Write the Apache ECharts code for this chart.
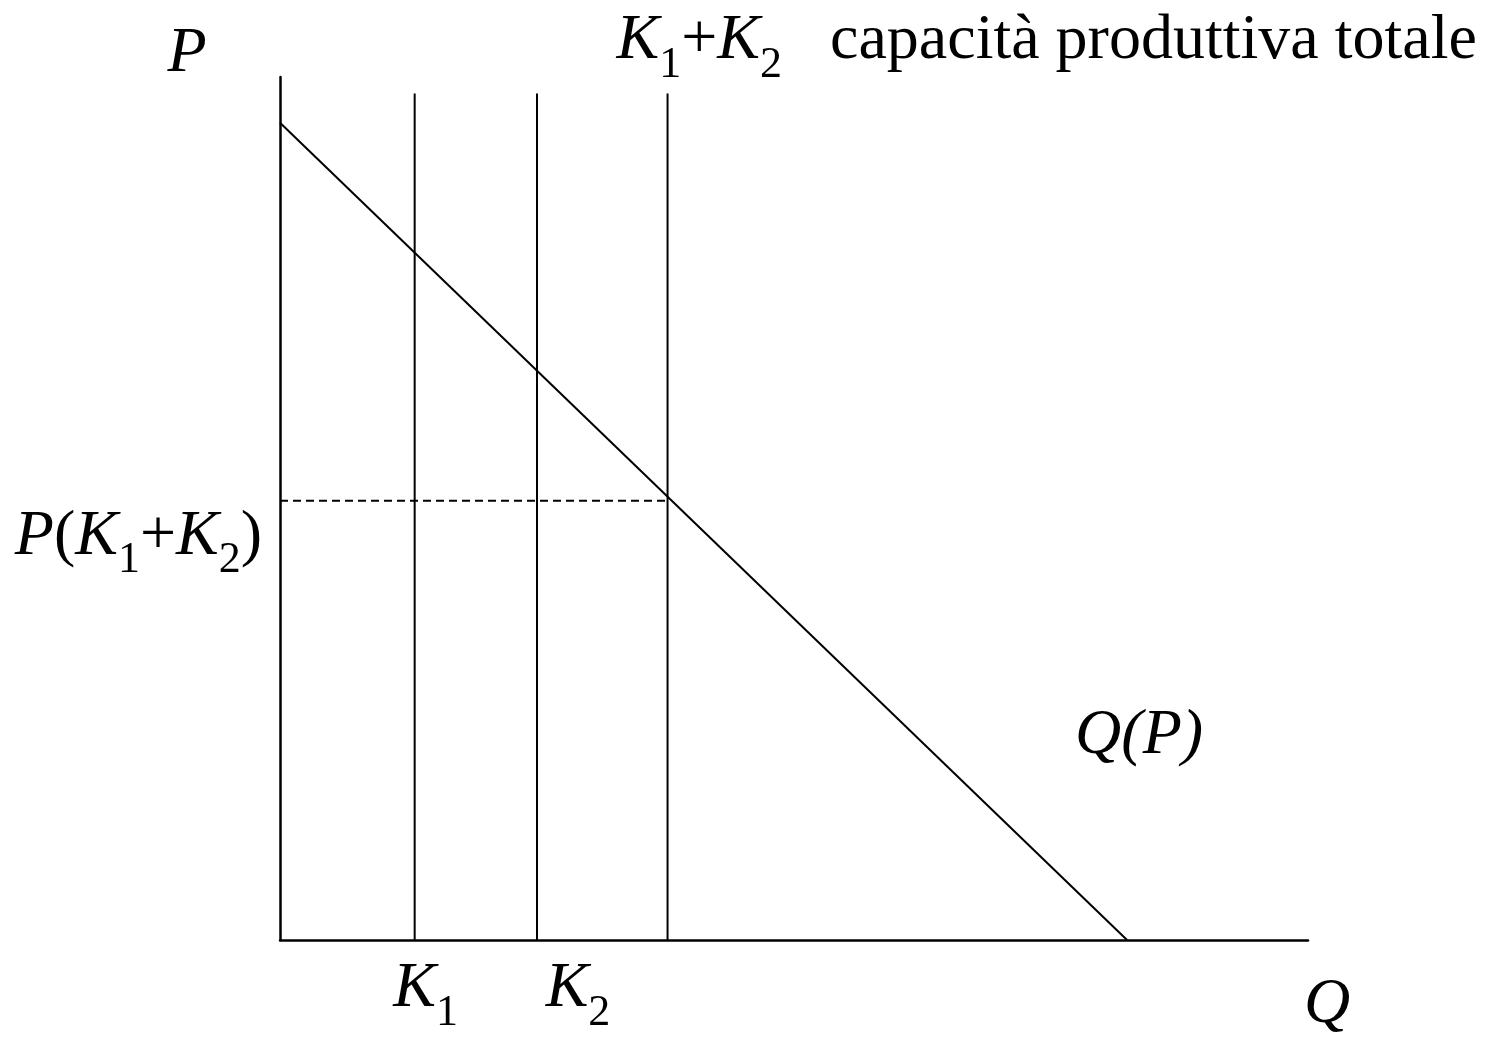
<!DOCTYPE html>
<html>
<head>
<meta charset="utf-8">
<title>Capacità produttiva</title>
<script src="https://cdn.jsdelivr.net/npm/echarts@6/dist/echarts.min.js"></script>
<style>
  html, body { margin: 0; padding: 0; background: #fff; }
  #main { width: 1485px; height: 1040px; }
</style>
</head>
<body>
<div id="main"></div>
<script>
// quantities (Q axis, 0..100)
var capacityK1 = 13.1;
var capacityK2 = 25.0;
var capacityTotal = 37.7;
var capacityTop = 98.1;          // where the capacity lines stop
// demand Q(P): price intercept and quantity intercept
var demandP0 = 94.7;
var demandQ0 = 82.4;
// price at total capacity
var priceAtTotal = 50.9;

var FONT = '"Liberation Serif", "Times New Roman", serif';

var rich = {
  i: { fontFamily: FONT, fontStyle: 'italic', fontSize: 64, lineHeight: 64, color: '#000', verticalAlign: 'top' },
  r: { fontFamily: FONT, fontSize: 64, lineHeight: 64, color: '#000', verticalAlign: 'top' },
  s: { fontFamily: FONT, fontSize: 44, lineHeight: 44, color: '#000', verticalAlign: 'top', padding: [34, 0, 0, 0] },
  k1: { fontFamily: FONT, fontStyle: 'italic', fontSize: 64, lineHeight: 64, color: '#000', verticalAlign: 'top', padding: [0, 0, 0, 22] },
  k2: { fontFamily: FONT, fontStyle: 'italic', fontSize: 64, lineHeight: 64, color: '#000', verticalAlign: 'top', padding: [0, 0, 0, 82] }
};

var lineStyle = { color: '#000', width: 2 };
var hidden = { color: 'rgba(0,0,0,0)' };

function vline(q, label) {
  var top = { value: [q, capacityTop] };
  if (label) {
    top.label = {
      show: true,
      position: 'top',
      distance: 0,
      align: 'left',
      offset: [-51, -20],
      formatter: label,
      rich: rich
    };
  }
  return {
    type: 'line',
    symbol: 'circle',
    symbolSize: 0.01,
    showSymbol: true,
    itemStyle: hidden,
    lineStyle: lineStyle,
    data: [[q, 0], top]
  };
}

var chart = echarts.init(document.getElementById('main'));

chart.setOption({
  animation: false,
  backgroundColor: '#fff',
  grid: { left: 280, right: 177, top: 77, bottom: 100 },
  xAxis: {
    type: 'value',
    min: 0,
    max: 100,
    splitLine: { show: false },
    axisTick: { show: false },
    axisLine: { show: true, onZero: false, lineStyle: { color: '#000', width: 2.5 } },
    axisLabel: {
      show: true,
      customValues: [capacityK1, capacityK2],
      margin: 17,
      formatter: function (v) {
        return v === capacityK1 ? '{k1|K}{s|1}' : '{k2|K}{s|2}';
      },
      rich: rich
    },
    name: 'Q',
    nameLocation: 'end',
    nameGap: 19,
    nameTextStyle: {
      fontFamily: FONT, fontStyle: 'italic', fontSize: 64, lineHeight: 64, color: '#000',
      align: 'center', verticalAlign: 'top', padding: [33, 0, 0, 0]
    }
  },
  yAxis: {
    type: 'value',
    min: 0,
    max: 100,
    splitLine: { show: false },
    axisTick: { show: false },
    axisLine: { show: true, onZero: false, lineStyle: { color: '#000', width: 2.5 } },
    axisLabel: {
      show: true,
      customValues: [priceAtTotal],
      margin: 18,
      padding: [72, 0, 0, 0],
      formatter: function () {
        return '{i|P}{r|(}{i|K}{s|1}{r|+}{i|K}{s|2}{r|)}';
      },
      rich: rich
    },
    name: 'P',
    nameLocation: 'end',
    nameGap: 23,
    nameTextStyle: {
      fontFamily: FONT, fontStyle: 'italic', fontSize: 64, color: '#000',
      align: 'center', verticalAlign: 'middle', padding: [0, 186, 0, 0]
    }
  },
  series: [
    {
      type: 'line',
      symbol: 'circle',
      symbolSize: 0.01,
      showSymbol: true,
      itemStyle: hidden,
      lineStyle: lineStyle,
      data: [
        [0, demandP0],
        {
          value: [demandQ0, 0],
          label: {
            show: true,
            position: 'top',
            distance: 0,
            offset: [12, -172],
            formatter: 'Q(P)',
            fontFamily: FONT, fontStyle: 'italic', fontSize: 64, lineHeight: 64, color: '#000'
          }
        }
      ]
    },
    vline(capacityK1),
    vline(capacityK2),
    vline(capacityTotal, '{i|K}{s|1}{r|+}{i|K}{s|2}{r|   capacità produttiva totale}'),
    {
      type: 'line',
      symbol: 'none',
      lineStyle: { color: '#000', width: 1.8, type: [8, 5] },
      data: [[0, priceAtTotal], [capacityTotal, priceAtTotal]]
    }
  ]
});
</script>
</body>
</html>
